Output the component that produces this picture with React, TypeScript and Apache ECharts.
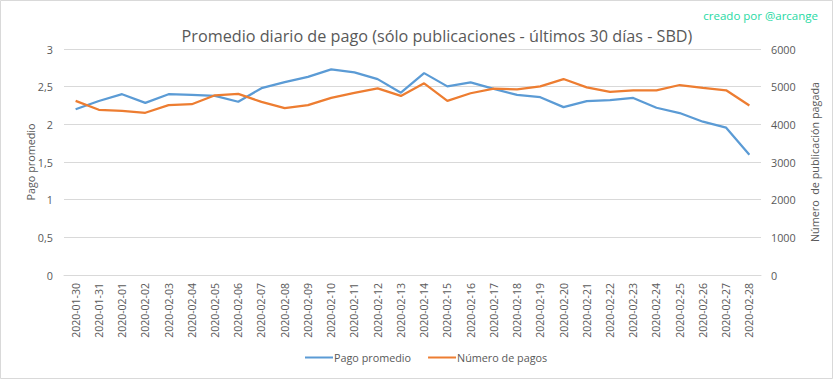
import React, { useEffect, useRef } from "react";
import * as echarts from "echarts";

const categories = [
  "2020-01-30", "2020-01-31", "2020-02-01", "2020-02-02", "2020-02-03", "2020-02-04",
  "2020-02-05", "2020-02-06", "2020-02-07", "2020-02-08", "2020-02-09", "2020-02-10",
  "2020-02-11", "2020-02-12", "2020-02-13", "2020-02-14", "2020-02-15", "2020-02-16",
  "2020-02-17", "2020-02-18", "2020-02-19", "2020-02-20", "2020-02-21", "2020-02-22",
  "2020-02-23", "2020-02-24", "2020-02-25", "2020-02-26", "2020-02-27", "2020-02-28",
];

const pagoPromedio = [
  2.2, 2.31, 2.4, 2.285, 2.4, 2.39, 2.377, 2.3, 2.48, 2.56, 2.63, 2.73, 2.69, 2.6, 2.42,
  2.68, 2.504, 2.557, 2.47, 2.39, 2.36, 2.228, 2.307, 2.32, 2.35, 2.22, 2.15, 2.035, 1.956, 1.596,
];

const numeroPagos = [
  4623, 4386, 4360, 4307, 4509, 4535, 4772, 4807, 4596, 4430, 4509, 4702, 4833, 4956, 4754,
  5088, 4623, 4825, 4947, 4930, 5009, 5202, 4982, 4860, 4904, 4904, 5044, 4965, 4904, 4500,
];

const titleText = "Promedio diario de pago (sólo publicaciones - últimos 30 días - SBD)";
const creditText = "creado por @arcange";

const FONT = "'Open Sans', 'Noto Sans', sans-serif";
const TXT = "#595959";
const GRID = "#d9d9d9";

export default function App() {
  const ref = useRef<HTMLDivElement>(null);
  useEffect(() => {
    if (!ref.current) return;
    const chart = echarts.init(ref.current, null, { renderer: "svg" });
    chart.setOption({
      animation: false,
      backgroundColor: "#ffffff",
      textStyle: { fontFamily: FONT },
      title: {
        text: titleText,
        left: 432,
        textAlign: "center",
        top: 23,
        textStyle: { fontFamily: FONT, fontSize: 16.2, fontWeight: "normal", color: TXT },
      },
      graphic: [
        {
          type: "rect",
          shape: { x: 0.5, y: 0.5, width: 832, height: 378 },
          style: { fill: "none", stroke: GRID, lineWidth: 1 },
          silent: true,
        },
        {
          type: "text",
          right: 15,
          top: 9,
          style: { text: creditText, fill: "#26d9a3", font: `11.5px ${FONT}` },
        },
      ],
      legend: {
        bottom: 11,
        left: 300,
        itemWidth: 28,
        itemHeight: 2,
        itemGap: 17,
        icon: "rect",
        textStyle: { fontFamily: FONT, fontSize: 10.8, color: TXT, padding: [0, 0, 0, -4] },
        data: ["Pago promedio", "Número de pagos"],
      },
      grid: { left: 64, right: 72, top: 49, bottom: 104, containLabel: false },
      xAxis: {
        type: "category",
        data: categories,
        boundaryGap: true,
        axisLine: { show: true, lineStyle: { color: GRID } },
        axisTick: { show: false },
        axisLabel: { rotate: 90, fontSize: 10.5, color: TXT, fontFamily: FONT, margin: 8, interval: 0 },
      },
      yAxis: [
        {
          type: "value",
          min: 0,
          max: 3,
          interval: 0.5,
          name: "Pago promedio",
          nameLocation: "middle",
          nameRotate: 90,
          nameGap: 28,
          nameMoveOverlap: false,
          nameTextStyle: { fontFamily: FONT, fontSize: 10.8, color: TXT },
          axisLine: { show: false },
          axisTick: { show: false },
          splitLine: { lineStyle: { color: GRID } },
          axisLabel: {
            color: TXT,
            fontSize: 10.8,
            fontFamily: FONT,
            margin: 11,
            formatter: (v: number) => String(v).replace(".", ","),
          },
        },
        {
          type: "value",
          min: 0,
          max: 6000,
          interval: 1000,
          name: "Número  de publicación pagada",
          nameLocation: "middle",
          nameRotate: 90,
          nameGap: 48,
          nameMoveOverlap: false,
          nameTextStyle: { fontFamily: FONT, fontSize: 10.8, color: TXT },
          axisLine: { show: false },
          axisTick: { show: false },
          splitLine: { show: false },
          axisLabel: {
            color: TXT,
            fontSize: 10.8,
            fontFamily: FONT,
            margin: 10,
            formatter: (v: number) => String(v),
          },
        },
      ],
      series: [
        {
          name: "Pago promedio",
          type: "line",
          data: pagoPromedio,
          yAxisIndex: 0,
          showSymbol: false,
          symbol: "none",
          lineStyle: { color: "#5b9bd5", width: 2.25 },
          itemStyle: { color: "#5b9bd5" },
        },
        {
          name: "Número de pagos",
          type: "line",
          data: numeroPagos,
          yAxisIndex: 1,
          showSymbol: false,
          symbol: "none",
          lineStyle: { color: "#ed7d31", width: 2.25 },
          itemStyle: { color: "#ed7d31" },
        },
      ],
    });
    return () => chart.dispose();
  }, []);
  return (
    <div
      ref={ref}
      style={{ position: "fixed", left: 0, top: 0, width: 833, height: 379 }}
    />
  );
}
